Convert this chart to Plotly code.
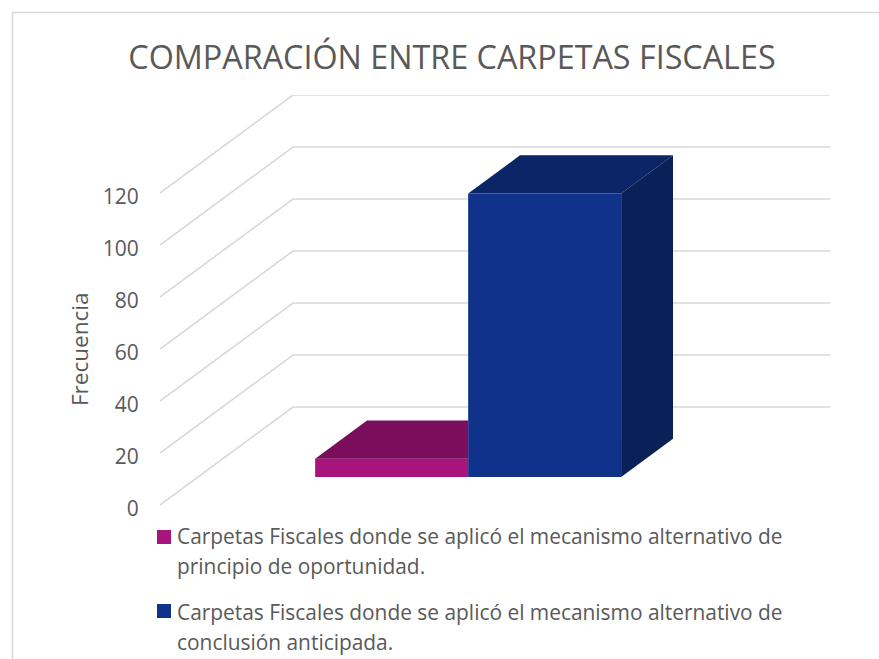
import plotly.graph_objects as go

# --- data ---
title_text = "COMPARACIÓN ENTRE CARPETAS FISCALES"
y_title = "Frecuencia"
tick_values = [0, 20, 40, 60, 80, 100, 120]
series_names = [
    "Carpetas Fiscales donde se aplicó el mecanismo alternativo de<br>principio de oportunidad.",
    "Carpetas Fiscales donde se aplicó el mecanismo alternativo de<br>conclusión anticipada.",
]
series_values = [7, 109]
front_colors = ["#A6147C", "#10328A"]
top_colors = ["#7B0E5C", "#0C2566"]
side_colors = ["#7B0E5C", "#0A2158"]

# --- oblique projection (axis units) ---
W, H = 879, 659
PL, PR, PT, PB = 160, 830, 95, 509   # plot box in pixels
PX_PER_X = 537.0
PX_PER_V = 2.6
DEPTH_X = 133 / PX_PER_X
DEPTH_V = 98 / PX_PER_V
LABEL_DROP = 4 / PX_PER_V            # tick labels sit slightly below the wall lines
BAR_W = 153 / PX_PER_X
CENTER = 0.503
D_FRONT, D_BACK = 0.286, 0.676
FONT = "Open Sans"
GREY = "#595959"
KEY_TOPS = [530, 604]
KEY_TEXT_MIDS = [551, 627]


def proj(x, v, d):
    return x + d * DEPTH_X, v + d * DEPTH_V + LABEL_DROP


def px(x):
    return (x - PL) / (PR - PL)


def py(y):
    return (PB - y) / (PB - PT)


fig = go.Figure()
lefts = [CENTER - BAR_W, CENTER]
base = proj(0, 0, D_FRONT)[1]

for i, (name, val) in enumerate(zip(series_names, series_values)):
    x0 = lefts[i]
    fig.add_trace(go.Bar(
        x=[proj(x0 + BAR_W / 2, 0, D_FRONT)[0]], y=[val], base=[base], width=[BAR_W],
        name=name.replace("<br>", " "), showlegend=False,
        marker=dict(color=front_colors[i], line=dict(width=0)), hoverinfo="skip",
    ))

for i, val in enumerate(series_values):
    x0 = lefts[i]
    x1 = x0 + BAR_W
    fa, fb = proj(x0, val, D_FRONT), proj(x1, val, D_FRONT)
    ba, bb = proj(x0, val, D_BACK), proj(x1, val, D_BACK)
    if i == 0:
        # the taller neighbour hides the right end of this top face
        xs = [fa[0], fb[0], fb[0], ba[0], fa[0]]
        ys = [fa[1], fb[1], bb[1], ba[1], fa[1]]
    else:
        xs = [fa[0], fb[0], bb[0], ba[0], fa[0]]
        ys = [fa[1], fb[1], bb[1], ba[1], fa[1]]
    fig.add_trace(go.Scatter(x=xs, y=ys, mode="lines", fill="toself", fillcolor=top_colors[i],
                             line=dict(width=0), showlegend=False, hoverinfo="skip"))
    fl, bl = proj(x1, 0, D_FRONT), proj(x1, 0, D_BACK)
    if i == 1:
        fig.add_trace(go.Scatter(
            x=[fl[0], fb[0], bb[0], bl[0], fl[0]], y=[fl[1], fb[1], bb[1], bl[1], fl[1]],
            mode="lines", fill="toself", fillcolor=side_colors[i],
            line=dict(width=0), showlegend=False, hoverinfo="skip"))

# gridlines on the side wall and back wall
shapes = []
for v in tick_values:
    a = proj(0, v, 0)
    b = proj(0, v, 1)
    c = (1 + DEPTH_X, b[1])
    shapes.append(dict(type="path", xref="x", yref="y", layer="below",
                       path=f"M {a[0]} {a[1]} L {b[0]} {b[1]} L {c[0]} {c[1]}",
                       line=dict(color="#D9D9D9", width=1.6)))
# chart frame (top and left edges visible)
shapes.append(dict(type="path", xref="paper", yref="paper", layer="below",
                   path=f"M {px(12.5)} {py(H+5)} L {px(12.5)} {py(12.5)} L {px(W+5)} {py(12.5)}",
                   line=dict(color="#D9D9D9", width=1.6)))

annotations = [dict(text=y_title, textangle=-90, xref="paper", yref="paper",
                    x=px(79), y=py(350), showarrow=False, xanchor="center", yanchor="middle",
                    font=dict(size=22.5, color=GREY, family=FONT))]

# key: swatch and two-line label per series
for name, color, top, mid in zip(series_names, front_colors, KEY_TOPS, KEY_TEXT_MIDS):
    shapes.append(dict(type="rect", xref="paper", yref="paper",
                       x0=px(157), x1=px(171), y0=py(top + 14), y1=py(top),
                       fillcolor=color, line=dict(width=0)))
    annotations.append(dict(text=f'<span style="font-size:20.9px">{name}</span>',
                            xref="paper", yref="paper", x=px(175), y=py(mid), showarrow=False,
                            xanchor="left", yanchor="middle", align="left",
                            font=dict(size=23, color=GREY, family=FONT)))

fig.update_layout(
    width=W, height=H,
    margin=dict(l=PL, r=W - PR, t=PT, b=H - PB, autoexpand=False),
    paper_bgcolor="white", plot_bgcolor="rgba(0,0,0,0)",
    font=dict(family=FONT, color=GREY, size=20),
    title=dict(text=title_text, x=452 / W, xanchor="center", y=1 - 58 / H, yanchor="middle",
               font=dict(size=32.3, color=GREY, family=FONT)),
    barmode="overlay",
    shapes=shapes,
    annotations=annotations,
    showlegend=False,
    xaxis=dict(range=[0, (PR - PL) / PX_PER_X], visible=False, fixedrange=True),
    yaxis=dict(range=[0, (PB - PT) / PX_PER_V], tickmode="array", tickvals=tick_values,
               ticktext=[str(v) for v in tick_values], showgrid=False, zeroline=False, showline=False,
               ticks="outside", ticklen=16, tickcolor="rgba(0,0,0,0)", automargin=False,
               tickfont=dict(size=21, color=GREY, family=FONT), fixedrange=True),
)

fig.write_html("out.html", config={"displayModeBar": False},
               post_script="document.body.style.margin='0';")
